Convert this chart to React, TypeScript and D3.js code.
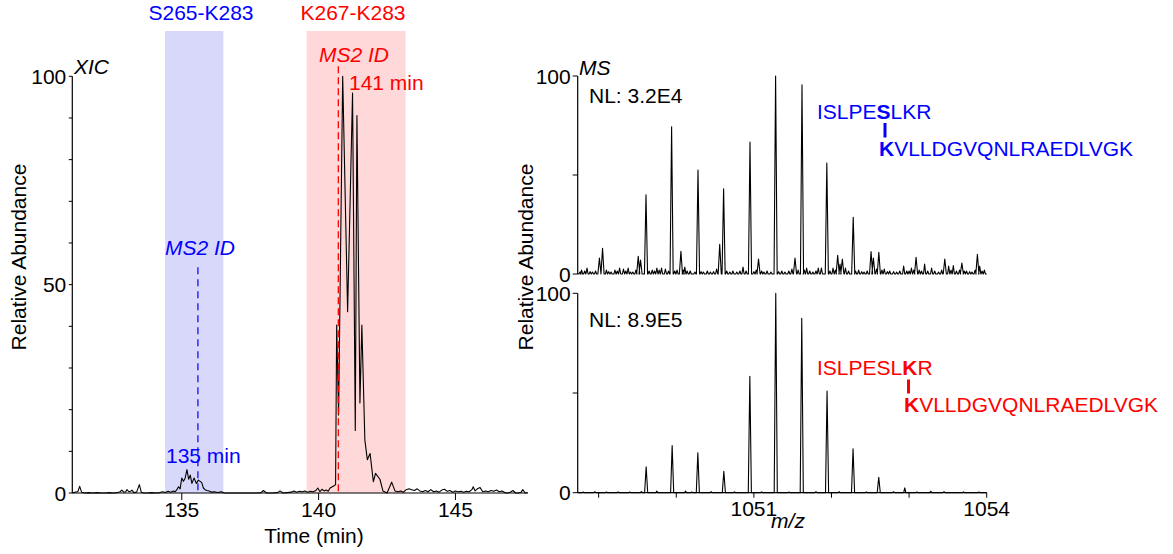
import React from "react";
import * as d3 from "d3";

// ---------- DATA ----------
// XIC chromatogram: [time (min), relative abundance]
const xicPoints: [number, number][] = [
  [131.0, 0], [131.1, 0.2], [131.2, 0.3], [131.27, 1.6], [131.34, 0.2], [131.45, 0], [131.6, 0.1], [131.75, 0],
  [131.9, 0.1], [132.05, 0], [132.2, 0], [132.35, 0.1], [132.5, 0], [132.65, 0.1], [132.75, 0.3], [132.81, 0.7],
  [132.88, 0.2], [132.95, 0.3], [133.0, 0.8], [133.07, 0.3], [133.13, 0.4], [133.18, 0.7], [133.25, 0.1], [133.35, 0.2],
  [133.45, 2.0], [133.52, 0.2], [133.6, 0], [133.75, 0], [133.9, 0.1], [134.05, 0], [134.2, 0.1], [134.3, 0.3],
  [134.4, 0.1], [134.5, 0.4], [134.6, 0.2], [134.7, 0.5], [134.76, 0.3], [134.82, 0.8], [134.88, 1.5], [134.94, 1.0],
  [135.0, 3.6], [135.06, 2.8], [135.12, 3.5], [135.19, 5.6], [135.25, 3.3], [135.31, 4.3], [135.37, 2.3], [135.45, 3.6],
  [135.53, 2.3], [135.61, 3.1], [135.67, 2.8], [135.73, 2.5], [135.79, 1.2], [135.85, 0.8], [135.92, 0.6], [136.0, 0.5],
  [136.1, 0.2], [136.2, 0.3], [136.3, 0.1], [136.45, 0.3], [136.55, 0], [136.7, 0], [136.85, 0], [137.0, 0],
  [137.15, 0], [137.3, 0], [137.45, 0], [137.6, 0], [137.75, 0], [137.9, 0.1], [137.98, 0.6], [138.1, 0],
  [138.3, 0], [138.5, 0.1], [138.59, 0.5], [138.7, 0], [138.85, 0.1], [139.0, 0.2], [139.1, 0.5], [139.2, 0.2],
  [139.3, 0.4], [139.4, 0.3], [139.5, 0.5], [139.6, 0.2], [139.7, 0.4], [139.8, 0.3], [139.9, 0.6], [139.97, 1.2],
  [140.05, 0.3], [140.12, 0.9], [140.2, 0.5], [140.27, 0.7], [140.35, 0.4], [140.42, 1.2], [140.5, 1.5], [140.58, 1.8],
  [140.62, 2.0], [140.66, 40.3], [140.73, 18.7], [140.88, 100], [141.06, 43.5], [141.24, 96], [141.34, 15], [141.4, 90.6],
  [141.51, 21.6], [141.58, 40.3], [141.69, 12.7], [141.78, 8], [141.88, 9.5], [142.0, 2.7], [142.08, 4.7], [142.24, 3.3],
  [142.35, 0.5], [142.5, 0], [142.67, 2.6], [142.79, 0.5], [142.9, 0.3], [143.0, 0.5], [143.1, 0.2], [143.2, 0.8],
  [143.3, 1.0], [143.4, 0.8], [143.5, 0.6], [143.6, 1.0], [143.7, 0.5], [143.8, 0.3], [143.9, 0.6], [144.0, 0.3],
  [144.1, 0.8], [144.2, 0.3], [144.3, 0.5], [144.4, 0.2], [144.5, 0.7], [144.6, 0.9], [144.7, 0.4], [144.8, 0.6],
  [144.9, 0.2], [145.0, 0.5], [145.1, 0.3], [145.2, 0.4], [145.3, 0.2], [145.4, 0.4], [145.5, 0.3], [145.6, 0.8],
  [145.65, 1.5], [145.72, 0.5], [145.8, 1.0], [145.9, 1.3], [146.0, 0.3], [146.1, 0.5], [146.2, 0.3], [146.3, 0.6],
  [146.4, 0.4], [146.5, 0.7], [146.6, 0.3], [146.7, 0.5], [146.8, 0.1], [146.9, 0], [147.0, 0.2], [147.1, 0.6],
  [147.2, 0], [147.3, 0], [147.4, 0.2], [147.46, 0.8], [147.55, 0], [147.64, 0.1],
];

const xicDomain: [number, number] = [131.0, 147.64];
const xicTicks = [135, 140, 145];
const xicYTicks = [0, 10, 20, 30, 40, 50, 60, 70, 80, 90, 100];
const xicYLabels = [0, 50, 100];
const blueBand: [number, number] = [134.39, 136.52];
const redBand: [number, number] = [139.56, 143.18];
const blueMs2Time = 135.59;
const redMs2Time = 140.72;

// MS spectra: [m/z, relative abundance]
const msTopPeaks: [number, number][] = [
  [1048.76, 1], [1048.78, 2], [1048.82, 1.5], [1048.85, 3], [1048.89, 1.2], [1048.92, 1], [1048.96, 1.5],
  [1049.01, 8], [1049.05, 13], [1049.1, 2], [1049.13, 1.2], [1049.16, 1], [1049.21, 2], [1049.24, 1.5],
  [1049.27, 3], [1049.32, 2.5], [1049.35, 1.5], [1049.38, 3], [1049.41, 1], [1049.44, 1], [1049.48, 2],
  [1049.51, 9], [1049.54, 7], [1049.61, 40], [1049.65, 1.5], [1049.69, 2], [1049.72, 1.5], [1049.75, 3],
  [1049.78, 2], [1049.81, 3], [1049.86, 2.5], [1049.9, 1.5], [1049.94, 74.4], [1049.98, 1.5], [1050.01, 2],
  [1050.06, 11.5], [1050.09, 2], [1050.11, 3.5], [1050.14, 1.5], [1050.18, 1.5], [1050.24, 1], [1050.28, 52.5],
  [1050.32, 1.2], [1050.35, 1], [1050.4, 1.5], [1050.44, 1], [1050.48, 1.2], [1050.52, 2.5], [1050.56, 15],
  [1050.61, 43], [1050.65, 1.5], [1050.69, 1], [1050.73, 1.5], [1050.78, 1], [1050.82, 1.5], [1050.86, 3.5],
  [1050.9, 1.5], [1050.95, 66.7], [1051.0, 1.2], [1051.03, 2], [1051.06, 7.5], [1051.1, 1.5], [1051.13, 1],
  [1051.17, 1.5], [1051.22, 1], [1051.28, 100], [1051.32, 1.2], [1051.36, 1.5], [1051.4, 1], [1051.45, 1.5],
  [1051.49, 2.5], [1051.53, 8], [1051.57, 2], [1051.62, 95.5], [1051.65, 2], [1051.68, 3], [1051.72, 1.5],
  [1051.76, 1], [1051.8, 1.5], [1051.83, 3], [1051.87, 3], [1051.94, 56], [1051.98, 1.5], [1052.02, 3],
  [1052.05, 2], [1052.08, 9.5], [1052.11, 5], [1052.14, 7.6], [1052.18, 3], [1052.22, 1.5], [1052.28, 28.6],
  [1052.31, 1.5], [1052.35, 2], [1052.39, 1.2], [1052.42, 1], [1052.46, 1.5], [1052.51, 11.3], [1052.54, 8],
  [1052.58, 2.5], [1052.61, 11], [1052.65, 2], [1052.68, 2.5], [1052.72, 1.2], [1052.75, 1.5], [1052.8, 1.2],
  [1052.84, 1], [1052.88, 1.5], [1052.93, 4], [1052.97, 1.5], [1053.0, 1.5], [1053.03, 3], [1053.06, 2],
  [1053.09, 8.4], [1053.13, 2], [1053.16, 1.5], [1053.2, 5], [1053.24, 1.5], [1053.29, 3], [1053.33, 1.5],
  [1053.38, 1], [1053.42, 2], [1053.46, 7.6], [1053.51, 4], [1053.54, 2], [1053.57, 4.3], [1053.61, 1.5],
  [1053.65, 2], [1053.68, 5.5], [1053.71, 1.5], [1053.74, 1.5], [1053.78, 1.2], [1053.81, 1], [1053.85, 2],
  [1053.88, 10], [1053.91, 4], [1053.94, 1.5], [1053.97, 2],
];

const msBottomPeaks: [number, number][] = [
  [1048.8, 0.3], [1048.95, 0.5], [1049.1, 0.3], [1049.25, 0.4], [1049.4, 0.3], [1049.55, 0.6], [1049.612, 13],
  [1049.75, 0.8], [1049.947, 23.6], [1050.12, 0.8], [1050.2, 0.4], [1050.278, 20], [1050.45, 0.5], [1050.613, 10.7],
  [1050.75, 0.4], [1050.948, 58.4], [1051.1, 0.4], [1051.282, 100], [1051.45, 0.3], [1051.617, 87.4],
  [1051.8, 0.5], [1051.943, 51], [1052.1, 0.5], [1052.278, 22], [1052.45, 0.4], [1052.609, 7.7], [1052.8, 0.5],
  [1052.944, 2.4], [1053.1, 0.4], [1053.279, 0.7], [1053.45, 0.5], [1053.7, 0.4], [1053.9, 0.3],
];

const msDomain: [number, number] = [1048.73, 1054];
const msXTicks = [1049, 1050, 1051, 1052, 1053, 1054];
const msXLabels = [1051, 1054];
const msYTicks = [0, 50, 100];
const msYLabels = [0, 100];

const FONT = "'Liberation Sans', Arial, Helvetica, sans-serif";
const BLUE = "#0000ff";
const RED = "#ff0000";

function spectrumPath(peaks: [number, number][], x: d3.ScaleLinear<number, number>, y: d3.ScaleLinear<number, number>, domain: [number, number]) {
  const pts: [number, number][] = [[domain[0], 0]];
  [...peaks].sort((a, b) => a[0] - b[0]).forEach(([mz, h]) => {
    const hw = h > 5 ? 0.02 : 0.014;
    pts.push([mz - hw, 0], [mz, h], [mz + hw, 0]);
  });
  pts.push([domain[1], 0]);
  return d3.line<[number, number]>().x((d) => x(d[0])).y((d) => y(d[1]))(pts) || "";
}

export default function App() {
  // Left XIC
  const xT = d3.scaleLinear().domain(xicDomain).range([72.3, 527.7]);
  const yL = d3.scaleLinear().domain([0, 100]).range([493, 76.3]);
  const xicLine = d3.line<[number, number]>().x((d) => xT(d[0])).y((d) => yL(d[1]))(xicPoints) || "";

  // Right MS
  const xM = d3.scaleLinear().domain(msDomain).range([577.7, 986.7]);
  const yTop = d3.scaleLinear().domain([0, 100]).range([274, 76]);
  const yBot = d3.scaleLinear().domain([0, 100]).range([492.7, 293.3]);
  const axisX = 577.7;

  const fs = 21;

  return (
    <svg width={1173} height={554} style={{ position: "absolute", left: 0, top: 0, background: "#fff" }} fontFamily={FONT} fontSize={fs}>
      {/* bands */}
      <rect x={xT(blueBand[0])} y={31} width={xT(blueBand[1]) - xT(blueBand[0])} height={yL(0) - 31} fill="#d8d8fa" />
      <rect x={xT(redBand[0])} y={31} width={xT(redBand[1]) - xT(redBand[0])} height={yL(0) - 31} fill="#ffd8d9" />

      {/* left axes */}
      <line x1={xT.range()[0]} x2={xT.range()[0]} y1={yL(100)} y2={yL(0)} stroke="#000" strokeWidth={1.2} />
      {xicYTicks.map((t) => (
        <line key={"yt" + t} x1={xT.range()[0] - 3.5} x2={xT.range()[0]} y1={yL(t)} y2={yL(t)} stroke="#000" strokeWidth={1} />
      ))}
      {xicYLabels.map((t) => (
        <text key={"yl" + t} x={xT.range()[0] - 6} y={yL(t)} textAnchor="end" dominantBaseline="central">{t}</text>
      ))}
      <line x1={xT.range()[0]} x2={xT.range()[1]} y1={yL(0)} y2={yL(0)} stroke="#000" strokeWidth={1.2} />
      {xicTicks.map((t) => (
        <g key={"xt" + t}>
          <line x1={xT(t)} x2={xT(t)} y1={yL(0)} y2={yL(0) + 7} stroke="#000" strokeWidth={1} />
          <text x={xT(t)} y={517} textAnchor="middle">{t}</text>
        </g>
      ))}

      {/* XIC trace */}
      <path d={xicLine} fill="none" stroke="#000" strokeWidth={1.1} strokeLinejoin="round" />

      {/* MS2 markers */}
      <line x1={xT(blueMs2Time)} x2={xT(blueMs2Time)} y1={yL(54.2)} y2={yL(0)} stroke={BLUE} strokeWidth={1.2} strokeDasharray="7,5" />
      <line x1={xT(redMs2Time)} x2={xT(redMs2Time)} y1={yL(102.4)} y2={yL(0)} stroke={RED} strokeWidth={1.3} strokeDasharray="7,4" />

      {/* left texts */}
      <text x={201} y={20} textAnchor="middle" fill={BLUE}>S265-K283</text>
      <text x={353} y={20} textAnchor="middle" fill={RED}>K267-K283</text>
      <text x={74} y={74} fontStyle="italic">XIC</text>
      <text x={354} y={62} textAnchor="middle" fill={RED} fontStyle="italic">MS2 ID</text>
      <text x={349} y={90} fill={RED}>141 min</text>
      <text x={200} y={255} textAnchor="middle" fill={BLUE} fontStyle="italic">MS2 ID</text>
      <text x={166} y={463} fill={BLUE}>135 min</text>
      <text x={314} y={543} textAnchor="middle">Time (min)</text>
      <text transform="translate(26,257) rotate(-90)" textAnchor="middle">Relative Abundance</text>

      {/* right axes */}
      <line x1={axisX} x2={axisX} y1={yTop(100)} y2={yTop(0)} stroke="#000" strokeWidth={1.2} />
      <line x1={axisX} x2={axisX} y1={yBot(100)} y2={yBot(0)} stroke="#000" strokeWidth={1.2} />
      {msYTicks.map((t) => (
        <g key={"myt" + t}>
          <line x1={axisX - 5} x2={axisX} y1={yTop(t)} y2={yTop(t)} stroke="#000" strokeWidth={1} />
          <line x1={axisX - 5} x2={axisX} y1={yBot(t)} y2={yBot(t)} stroke="#000" strokeWidth={1} />
        </g>
      ))}
      {msYLabels.map((t) => (
        <g key={"myl" + t}>
          <text x={axisX - 7} y={yTop(t)} textAnchor="end" dominantBaseline="central">{t}</text>
          <text x={axisX - 7} y={yBot(t)} textAnchor="end" dominantBaseline="central">{t}</text>
        </g>
      ))}
      <line x1={axisX} x2={xM.range()[1]} y1={yBot(0)} y2={yBot(0)} stroke="#000" strokeWidth={1.2} />
      {msXTicks.map((t) => (
        <line key={"mxt" + t} x1={xM(t)} x2={xM(t)} y1={yBot(0)} y2={yBot(0) + 5} stroke="#000" strokeWidth={1} />
      ))}
      {msXLabels.map((t) => (
        <text key={"mxl" + t} x={xM(t)} y={516} textAnchor="middle">{t}</text>
      ))}
      <text x={788} y={528} textAnchor="middle" fontStyle="italic">m/z</text>
      <text transform="translate(533,257) rotate(-90)" textAnchor="middle">Relative Abundance</text>

      {/* spectra */}
      <path d={spectrumPath(msTopPeaks, xM, yTop, msDomain)} fill="none" stroke="#000" strokeWidth={1.1} strokeLinejoin="round" />
      <path d={spectrumPath(msBottomPeaks, xM, yBot, msDomain)} fill="none" stroke="#000" strokeWidth={1.1} strokeLinejoin="round" />

      {/* right texts */}
      <text x={579} y={75} fontStyle="italic">MS</text>
      <text x={589} y={103}>NL: 3.2E4</text>
      <text x={589} y={327}>NL: 8.9E5</text>

      <text x={817} y={119} fill={BLUE}>
        ISLPE<tspan fontWeight="bold">S</tspan>LKR
      </text>
      <line x1={885} x2={885} y1={123} y2={137.5} stroke={BLUE} strokeWidth={3} />
      <text x={879} y={156} fill={BLUE}>
        <tspan fontWeight="bold">K</tspan>VLLDGVQNLRAEDLVGK
      </text>

      <text x={817} y={375} fill={RED}>
        ISLPESL<tspan fontWeight="bold">K</tspan>R
      </text>
      <line x1={908.5} x2={908.5} y1={379.5} y2={393.5} stroke={RED} strokeWidth={3} />
      <text x={904} y={411.7} fill={RED}>
        <tspan fontWeight="bold">K</tspan>VLLDGVQNLRAEDLVGK
      </text>
    </svg>
  );
}
